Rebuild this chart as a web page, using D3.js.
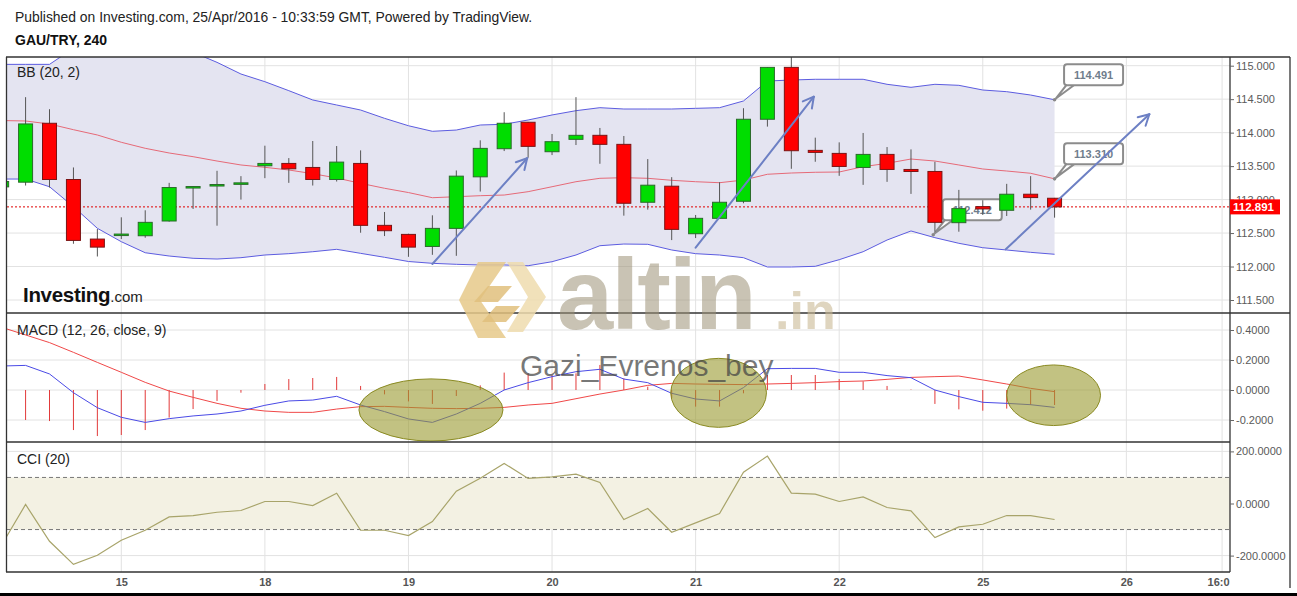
<!DOCTYPE html>
<html><head><meta charset="utf-8">
<script src="https://cdn.jsdelivr.net/npm/d3@7"></script>
<style>
html,body{margin:0;padding:0;background:#fff;}
svg{display:block;font-family:"Liberation Sans",Arial,sans-serif;}
</style></head><body>
<svg id="chart" width="1297" height="596"></svg>
<script>
// ---------- DATA ----------
const xLabelIdx = [5, 11, 17, 23, 29, 35, 41, 47, 51];
const xLabels = ["15", "18", "19", "20", "21", "22", "25", "26", "16:0"];
const priceTicks = [115, 114.5, 114, 113.5, 113, 112.5, 112, 111.5];
const macdTicks = [0.4, 0.2, 0, -0.2];
const cciTicks = [200, 0, -200];
const cciLevels = [100, -100];

const open  = [113.19,113.26,114.14,113.30,112.41,112.475,112.46,112.68,113.18,113.21,113.245,113.505,113.54,113.48,113.30,113.54,112.615,112.48,112.30,112.57,113.34,113.76,114.155,113.715,113.90,113.96,113.825,112.96,113.20,112.49,112.72,112.975,114.20,114.975,113.735,113.69,113.48,113.675,113.45,113.42,112.655,112.895,112.84,113.08,113.02];
const high  = [113.30,114.53,114.35,113.48,112.56,112.735,112.84,113.25,113.20,113.43,113.35,113.805,113.62,113.875,113.80,113.735,112.815,112.49,112.765,113.435,113.885,114.305,114.16,113.98,114.53,114.07,113.95,113.605,113.335,112.77,113.26,114.365,114.98,115.135,113.925,113.855,113.995,113.785,113.75,113.565,113.145,112.99,113.235,113.35,113.025];
const low   = [113.17,113.21,113.18,112.34,112.15,112.41,112.43,112.67,112.86,112.61,113.00,113.32,113.25,113.21,113.27,112.505,112.455,112.145,112.175,112.16,113.12,113.725,113.625,113.665,113.815,113.535,112.76,112.85,112.395,112.425,112.715,112.945,114.09,113.46,113.565,113.355,113.22,113.265,113.085,112.52,112.52,112.77,112.755,112.85,112.73];
const close = [113.27,114.13,113.30,112.39,112.29,112.485,112.66,113.18,113.195,113.225,113.25,113.54,113.46,113.30,113.56,112.615,112.535,112.29,112.57,113.35,113.765,114.14,113.795,113.865,113.96,113.825,112.945,113.215,112.555,112.72,112.96,114.20,114.975,113.73,113.705,113.495,113.675,113.45,113.42,112.66,112.865,112.86,113.08,113.03,112.891];

const bbUpper  = [115.02,115.02,115.02,115.26,115.40,115.45,115.45,115.40,115.20,115.05,114.876,114.761,114.627,114.488,114.413,114.338,114.214,114.103,114.02,114.039,114.114,114.125,114.189,114.264,114.328,114.373,114.353,114.353,114.353,114.363,114.373,114.473,114.771,114.786,114.797,114.797,114.797,114.722,114.677,114.722,114.707,114.637,114.612,114.562,114.491];
const bbMiddle = [114.181,114.174,114.129,114.044,113.965,113.856,113.766,113.696,113.641,113.576,113.517,113.482,113.442,113.387,113.322,113.243,113.169,113.105,113.028,113.043,113.058,113.068,113.118,113.192,113.267,113.318,113.327,113.318,113.288,113.267,113.252,113.292,113.378,113.397,113.408,113.412,113.491,113.542,113.606,113.576,113.517,113.457,113.427,113.393,113.310];
const bbLower  = [113.307,113.307,113.192,112.894,112.571,112.371,112.206,112.157,112.123,112.112,112.132,112.172,112.192,112.221,112.257,112.197,112.138,112.075,112.048,112.033,112.023,112.023,112.012,112.072,112.172,112.311,112.336,112.332,112.247,112.192,112.172,112.132,111.993,111.993,112.003,112.102,112.221,112.396,112.531,112.431,112.347,112.281,112.247,112.212,112.183];

const macdLine   = [0.16,0.164,0.107,-0.018,-0.118,-0.182,-0.216,-0.191,-0.173,-0.16,-0.14,-0.102,-0.073,-0.067,-0.042,-0.1,-0.144,-0.193,-0.216,-0.16,-0.089,0,0.049,0.089,0.122,0.138,0.073,0.049,-0.022,-0.06,-0.073,0.016,0.142,0.144,0.144,0.118,0.118,0.096,0.082,0,-0.044,-0.082,-0.089,-0.098,-0.116];
const signalLine = [0.418,0.367,0.316,0.251,0.184,0.118,0.051,-0.007,-0.049,-0.089,-0.122,-0.14,-0.149,-0.149,-0.127,-0.111,-0.109,-0.116,-0.122,-0.124,-0.122,-0.116,-0.1,-0.089,-0.058,-0.027,0,0.031,0.044,0.04,0.038,0.036,0.04,0.044,0.049,0.056,0.06,0.071,0.084,0.089,0.093,0.067,0.04,0.011,-0.011];
const macdHist   = [-0.26,-0.2,-0.207,-0.267,-0.307,-0.3,-0.267,-0.184,-0.127,-0.073,-0.018,0.04,0.073,0.08,0.087,0.027,-0.029,-0.076,-0.093,-0.04,0.031,0.116,0.111,0.1,0.111,0.167,0.078,0.022,-0.055,-0.111,-0.111,-0.022,0.1,0.1,0.1,0.073,0.058,0.027,0.003,-0.093,-0.129,-0.138,-0.124,-0.1,-0.1];

const cci = [-159,-3.8,-145,-233.5,-198.8,-141,-102.7,-51.5,-46.2,-33.5,-26.9,7.7,7.7,-7.7,39.6,-102.7,-102.7,-123,-69.2,47.3,97.3,153.8,96.2,102.3,112.7,80.8,-61.5,-19.2,-110.4,-74.6,-38.5,120.4,181.9,39.6,35.8,7.7,25.4,-15.4,-28.5,-130.8,-90,-79.6,-46.2,-46.2,-61.5];

// annotations (in data units)
const arrowFromIdx = [18.0, 29.0, 41.96];
const arrowFromPrice = [112.038, 112.281, 112.257];
const arrowToIdx = [21.96, 33.94, 47.96];
const arrowToPrice = [113.617, 114.537, 114.274];
const calloutText = ["114.491", "113.310", "112.412"];
const calloutIdx = [44, 44, 38.93];
const calloutPrice = [114.491, 113.310, 112.475];
const ellipseIdx = [17.94, 29.96, 43.96];
const ellipseVal = [-0.133, -0.019, -0.035];
const ellipseHalfBars = [3.01, 2.0, 1.96];
const ellipseHalfVal = [0.207, 0.23, 0.202];
const lastPrice = 112.891;

// ---------- LAYOUT ----------
const plotL = 7, plotR = 1230, frameR = 1290;
const mainT = 57, mainB = 313, macdB = 442, cciB = 572;
const FONT = '"Liberation Sans",Arial,sans-serif';

const x = d3.scaleLinear().domain([0, 51]).range([1.65, 1.65 + 51 * 23.93]);
const yP = d3.scaleLinear().domain([111.5, 115]).range([300, 65.7]);
const yM = d3.scaleLinear().domain([-0.2, 0.4]).range([420, 330]);
const yC = d3.scaleLinear().domain([-200, 200]).range([555.6, 451.4]);

const svg = d3.select("#chart");
svg.append("rect").attr("width", 1297).attr("height", 596).attr("fill", "#fff");
const defs = svg.append("defs");
function clip(id, y0, y1) {
  defs.append("clipPath").attr("id", id).append("rect")
    .attr("x", plotL).attr("y", y0).attr("width", plotR - plotL).attr("height", y1 - y0);
}
clip("cMain", mainT, mainB); clip("cMacd", mainB, macdB); clip("cCci", macdB, cciB);

// grid
const grid = svg.append("g").attr("stroke", "#e2e2e2").attr("stroke-width", 1);
xLabelIdx.forEach(i => grid.append("line").attr("x1", x(i)).attr("x2", x(i)).attr("y1", mainT).attr("y2", cciB));
priceTicks.forEach(v => grid.append("line").attr("x1", plotL).attr("x2", plotR).attr("y1", yP(v)).attr("y2", yP(v)));
macdTicks.forEach(v => grid.append("line").attr("x1", plotL).attr("x2", plotR).attr("y1", yM(v)).attr("y2", yM(v)));

// CCI band
svg.append("rect").attr("x", plotL).attr("width", plotR - plotL)
  .attr("y", yC(cciLevels[0])).attr("height", yC(cciLevels[1]) - yC(cciLevels[0])).attr("fill", "#f3f1e3");
cciTicks.forEach(v => grid.append("line").attr("x1", plotL).attr("x2", plotR).attr("y1", yC(v)).attr("y2", yC(v)));
cciLevels.forEach(v => svg.append("line").attr("x1", plotL).attr("x2", plotR).attr("y1", yC(v)).attr("y2", yC(v))
  .attr("stroke", "#777").attr("stroke-dasharray", "4,3"));

// main panel
const gMain = svg.append("g").attr("clip-path", "url(#cMain)");
const idx = d3.range(close.length);
gMain.append("path").datum(idx).attr("fill", "#e4e4f1")
  .attr("d", d3.area().x(i => x(i)).y0(i => yP(bbLower[i])).y1(i => yP(bbUpper[i])));
const lineP = arr => d3.line().x(i => x(i)).y(i => yP(arr[i]));
gMain.append("path").datum(idx).attr("fill", "none").attr("stroke", "#5c5ce0").attr("d", lineP(bbUpper));
gMain.append("path").datum(idx).attr("fill", "none").attr("stroke", "#5c5ce0").attr("d", lineP(bbLower));
gMain.append("path").datum(idx).attr("fill", "none").attr("stroke", "#e66a78").attr("d", lineP(bbMiddle));
gMain.append("line").attr("x1", plotL).attr("x2", plotR).attr("y1", yP(lastPrice)).attr("y2", yP(lastPrice))
  .attr("stroke", "#e00000").attr("stroke-dasharray", "2,2");

function callout(k) {
  const ax = x(calloutIdx[k]), ay = yP(calloutPrice[k]);
  const g = gMain.append("g");
  g.append("path").attr("d", `M${ax + 12},${ay - 15} L${ax + 1},${ay - 1} L${ax + 20},${ay - 15}`)
    .attr("fill", "#fff").attr("stroke", "#8c8c8c").attr("stroke-width", 2);
  g.append("circle").attr("cx", ax).attr("cy", ay).attr("r", 1.8).attr("fill", "#888");
  g.append("rect").attr("x", ax + 9.5).attr("y", ay - 35.5).attr("width", 59).attr("height", 21).attr("rx", 3)
    .attr("fill", "#fff").attr("stroke", "#8c8c8c").attr("stroke-width", 2);
  g.append("text").attr("x", ax + 39).attr("y", ay - 21).attr("text-anchor", "middle")
    .attr("font-family", FONT).attr("font-size", 11).attr("font-weight", "bold").attr("fill", "#6f7d8c")
    .text(calloutText[k]);
}
callout(2);

// candles
const gc = gMain.append("g");
idx.forEach(i => {
  gc.append("line").attr("x1", x(i)).attr("x2", x(i)).attr("y1", yP(high[i])).attr("y2", yP(low[i]))
    .attr("stroke", "#555").attr("stroke-width", 1);
});
idx.forEach(i => {
  const up = close[i] >= open[i];
  const yt = yP(Math.max(open[i], close[i])), yb = yP(Math.min(open[i], close[i]));
  gc.append("rect").attr("x", x(i) - 7).attr("width", 14)
    .attr("y", yt).attr("height", Math.max(1.5, yb - yt))
    .attr("fill", up ? "#00dd00" : "#ff0000").attr("stroke", up ? "#2a6a2a" : "#7a1414").attr("stroke-width", 1);
});
callout(0); callout(1);

// arrows
arrowFromIdx.forEach((_, k) => {
  const x0 = x(arrowFromIdx[k]), y0 = yP(arrowFromPrice[k]), x1 = x(arrowToIdx[k]), y1 = yP(arrowToPrice[k]);
  const a = Math.atan2(y1 - y0, x1 - x0);
  const g = svg.append("g").attr("stroke", "#6d80c4").attr("stroke-width", 2).attr("fill", "none").attr("stroke-linecap", "round");
  g.append("line").attr("x1", x0).attr("y1", y0).attr("x2", x1).attr("y2", y1);
  [0.5, -0.5].forEach(d => g.append("line").attr("x1", x1).attr("y1", y1)
    .attr("x2", x1 - 12 * Math.cos(a + d)).attr("y2", y1 - 12 * Math.sin(a + d)));
});

// MACD
const gM = svg.append("g").attr("clip-path", "url(#cMacd)");
idx.forEach(i => gM.append("line").attr("x1", x(i)).attr("x2", x(i)).attr("y1", yM(0)).attr("y2", yM(macdHist[i]))
  .attr("stroke", "#e23a3a").attr("stroke-width", 1));
gM.append("path").datum(idx).attr("fill", "none").attr("stroke", "#f04848")
  .attr("d", d3.line().x(i => x(i)).y(i => yM(signalLine[i])));
gM.append("path").datum(idx).attr("fill", "none").attr("stroke", "#4a4ae6")
  .attr("d", d3.line().x(i => x(i)).y(i => yM(macdLine[i])));
ellipseIdx.forEach((c, k) => {
  svg.append("ellipse").attr("cx", x(c)).attr("cy", yM(ellipseVal[k]))
    .attr("rx", x(c + ellipseHalfBars[k]) - x(c)).attr("ry", yM(-ellipseHalfVal[k]) - yM(0))
    .attr("fill", "#9a9a2e").attr("fill-opacity", 0.6).attr("stroke", "#8a8a22").attr("stroke-width", 1);
});

// CCI
svg.append("g").attr("clip-path", "url(#cCci)").append("path").datum(idx).attr("fill", "none")
  .attr("stroke", "#a8a46a").attr("stroke-width", 1.2)
  .attr("d", d3.line().x(i => x(i)).y(i => yC(cci[i])));

// frame
const fr = svg.append("g").attr("stroke", "#333").attr("stroke-width", 1.3);
fr.append("line").attr("x1", 6).attr("x2", frameR).attr("y1", mainT).attr("y2", mainT);
fr.append("line").attr("x1", 6).attr("x2", frameR).attr("y1", mainB).attr("y2", mainB);
fr.append("line").attr("x1", 6).attr("x2", plotR).attr("y1", macdB).attr("y2", macdB);
fr.append("line").attr("x1", 6).attr("x2", plotR).attr("y1", cciB).attr("y2", cciB);
fr.append("line").attr("x1", 6.5).attr("x2", 6.5).attr("y1", mainT).attr("y2", cciB);
fr.append("line").attr("x1", plotR).attr("x2", plotR).attr("y1", mainT).attr("y2", cciB);
fr.append("line").attr("x1", frameR).attr("x2", frameR).attr("y1", mainT).attr("y2", 588);
svg.append("rect").attr("x", 0).attr("y", 593).attr("width", 1297).attr("height", 3).attr("fill", "#000");

// axes
function styleAxis(g) {
  g.select(".domain").remove();
  g.selectAll("line").attr("stroke", "#666");
  g.selectAll("text").attr("font-family", FONT).attr("font-size", 11).attr("fill", "#5a5a5a");
}
const pa = svg.append("g").attr("transform", `translate(${plotR},0)`)
  .call(d3.axisRight(yP).tickValues(priceTicks).tickFormat(d => d.toFixed(3)).tickSize(4).tickPadding(2)).call(styleAxis);
svg.append("g").attr("transform", `translate(${plotR},0)`)
  .call(d3.axisRight(yM).tickValues(macdTicks).tickFormat(d => d.toFixed(4)).tickSize(4).tickPadding(2)).call(styleAxis);
svg.append("g").attr("transform", `translate(${plotR},0)`)
  .call(d3.axisRight(yC).tickValues(cciTicks).tickFormat(d => d.toFixed(4)).tickSize(4).tickPadding(2)).call(styleAxis);
const xa = svg.append("g").attr("transform", `translate(0,${cciB})`)
  .call(d3.axisBottom(x).tickValues(xLabelIdx).tickFormat((d, i) => xLabels[i]).tickSize(0).tickPadding(6));
styleAxis(xa);
xa.selectAll("text").attr("font-weight", "bold").attr("fill", "#555");
xa.selectAll("text").filter((d, i) => i === xLabels.length - 1).attr("text-anchor", "end").attr("dx", 7);

// last price label (partly covers the 113.000 tick label, as in the original)
svg.append("rect").attr("x", plotR).attr("y", yP(lastPrice) - 7.5).attr("width", 50).attr("height", 15).attr("fill", "#ff0000");
svg.append("text").attr("x", plotR + 3).attr("y", yP(lastPrice) + 4).attr("font-family", FONT)
  .attr("font-size", 11.5).attr("font-weight", "bold").attr("fill", "#fff").text(lastPrice.toFixed(3));

// titles
const T = (t, xx, yy, size, weight, fill) => svg.append("text").attr("x", xx).attr("y", yy)
  .attr("font-family", FONT).attr("font-size", size).attr("font-weight", weight || "normal").attr("fill", fill || "#222").text(t);
T("Published on Investing.com, 25/Apr/2016 - 10:33:59 GMT, Powered by TradingView.", 15, 22, 13.9);
T("GAU/TRY, 240", 15, 45, 14, "bold", "#111");
T("BB (20, 2)", 17, 77, 14);
T("MACD (12, 26, close, 9)", 17, 335, 14);
T("CCI (20)", 17, 464, 14);
const inv = svg.append("text").attr("x", 23).attr("y", 302).attr("font-family", FONT).attr("fill", "#111");
inv.append("tspan").attr("font-size", 20.5).attr("font-weight", "bold").attr("letter-spacing", -0.3).text("Investing");
inv.append("tspan").attr("font-size", 15).attr("fill", "#222").text(".com");

// watermark
const wm = svg.append("g");
const icon = [
  {pts: [[478,262],[506,262],[480,300],[506,338],[478,338],[459,300]], c: "#e6c98a"},
  {pts: [[507,262],[523,262],[546,297],[523,332],[507,332],[528,297]], c: "#efdcae"},
  {pts: [[488,286],[512,286],[498,302],[474,302]], c: "#e0c07c"},
  {pts: [[496,306],[520,306],[506,322],[482,322]], c: "#e0c07c"}
];
icon.forEach(s => wm.append("polygon").attr("points", s.pts.map(p => p.join(",")).join(" "))
  .attr("fill", s.c).attr("opacity", 0.85));
wm.append("text").attr("x", 557).attr("y", 329).attr("font-family", FONT).attr("font-size", 101)
  .attr("font-weight", "bold").attr("fill", "#9d9276").attr("fill-opacity", 0.55).attr("letter-spacing", -2).text("altin");
wm.append("text").attr("x", 775).attr("y", 329).attr("font-family", FONT).attr("font-size", 52)
  .attr("font-weight", "bold").attr("fill", "#c9b995").attr("fill-opacity", 0.6).text(".in");
wm.append("text").attr("x", 520).attr("y", 376).attr("font-family", FONT).attr("font-size", 30)
  .attr("fill", "#444").attr("fill-opacity", 0.72).text("Gazi_Evrenos_bey");
</script>
</body></html>
